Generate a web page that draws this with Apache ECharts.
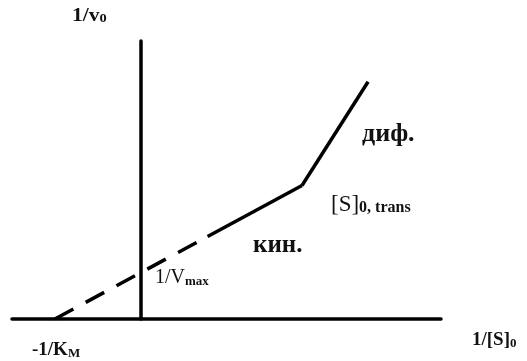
<!DOCTYPE html>
<html>
<head>
<meta charset="utf-8">
<script src="https://cdn.jsdelivr.net/npm/echarts@6/dist/echarts.min.js"></script>
<style>
html,body{margin:0;padding:0;background:#fff;}
#c{width:527px;height:361px;}
</style>
</head>
<body>
<div id="c"></div>
<script>
// Data (in axis units: x = 1/[S]0, y = 1/v0)
const dashedPart = [[-1, 0], [0.72, 1.72]];      // extrapolation to -1/KM
const kineticPart = [[0.78, 1.78], [1.88, 2.88]]; // kinetic region
const diffusionPart = [[1.88, 2.88], [2.65, 5.12]]; // diffusion region
const xRange = [-1.5, 3.5];
const yRange = [0, 6];

const serif = '"Liberation Serif", "DejaVu Serif", serif';
const ink = '#111';

const chart = echarts.init(document.getElementById('c'));
chart.setOption({
  backgroundColor: '#fff',
  animation: false,
  grid: {left: 12, right: 86, top: 41, bottom: 42},
  xAxis: {
    type: 'value', min: xRange[0], max: xRange[1],
    axisLine: {show: true, onZero: true, lineStyle: {color: '#000', width: 3.5}},
    axisTick: {show: false}, axisLabel: {show: false}, splitLine: {show: false}
  },
  yAxis: {
    type: 'value', min: yRange[0], max: yRange[1],
    axisLine: {show: true, onZero: true, lineStyle: {color: '#000', width: 3.5}},
    axisTick: {show: false}, axisLabel: {show: false}, splitLine: {show: false}
  },
  series: [
    {type: 'line', data: dashedPart, symbol: 'none',
     lineStyle: {color: '#000', width: 3.5, type: [21, 14]}},
    {type: 'line', data: kineticPart, symbol: 'none',
     lineStyle: {color: '#000', width: 3.5}},
    {type: 'line', data: diffusionPart, symbol: 'none',
     lineStyle: {color: '#000', width: 3.5}}
  ],
  graphic: [
    {type: 'text', left: 72, top: 7, scaleX: 1.2, style: {
      text: '{a|1/v}{b|0}', rich: {
        a: {fontFamily: serif, fontSize: 18, fontWeight: 'bold', fill: ink, verticalAlign: 'bottom'},
        b: {fontFamily: serif, fontSize: 12, fontWeight: 'bold', fill: ink, verticalAlign: 'bottom'}
      }}},
    {type: 'text', left: 155, top: 268, style: {
      text: '{a|1/V}{b|max}', rich: {
        a: {fontFamily: serif, fontSize: 20, fill: ink, verticalAlign: 'bottom'},
        b: {fontFamily: serif, fontSize: 13, fontWeight: 'bold', fill: ink, verticalAlign: 'bottom'}
      }}},
    {type: 'text', left: 32, top: 341, style: {
      text: '{a|-1/K}{b|M}', rich: {
        a: {fontFamily: serif, fontSize: 19, fontWeight: 'bold', fill: ink, verticalAlign: 'bottom'},
        b: {fontFamily: serif, fontSize: 13, fontWeight: 'bold', fill: ink, verticalAlign: 'bottom'}
      }}},
    {type: 'text', left: 253, top: 233, style: {
      text: 'кин.', fontFamily: serif, fontSize: 25, fontWeight: 'bold', fill: ink}},
    {type: 'text', left: 362, top: 121, style: {
      text: 'диф.', fontFamily: serif, fontSize: 26, fontWeight: 'bold', fill: ink}},
    {type: 'text', left: 331, top: 193, style: {
      text: '{a|[S]}{b|0, trans}', rich: {
        a: {fontFamily: serif, fontSize: 23, fill: ink, verticalAlign: 'bottom'},
        b: {fontFamily: serif, fontSize: 16, fontWeight: 'bold', fill: ink, verticalAlign: 'bottom'}
      }}},
    {type: 'text', left: 472, top: 331, style: {
      text: '{a|1/[S]}{b|0}', rich: {
        a: {fontFamily: serif, fontSize: 19, fontWeight: 'bold', fill: ink, verticalAlign: 'bottom'},
        b: {fontFamily: serif, fontSize: 13, fontWeight: 'bold', fill: ink, verticalAlign: 'bottom'}
      }}}
  ]
});
</script>
</body>
</html>
